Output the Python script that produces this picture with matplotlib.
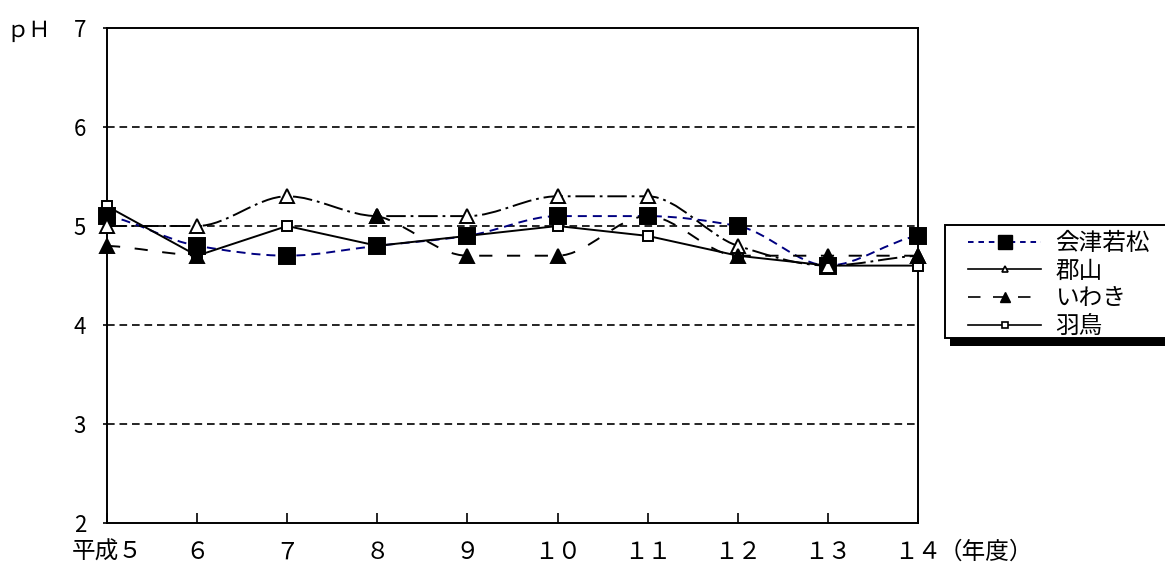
import matplotlib
matplotlib.use("Agg")
import matplotlib.pyplot as plt
import numpy as np
from matplotlib.path import Path
from matplotlib.patches import PathPatch, Rectangle
from matplotlib.lines import Line2D

plt.rcParams['font.family'] = ['Noto Sans CJK JP', 'DejaVu Sans']
plt.rcParams['lines.scale_dashes'] = False

# 年度別 pH (平成5〜14年度)
years = ['平成５', '６', '７', '８', '９', '１０', '１１', '１２', '１３', '１４']
aizu     = [5.1, 4.8, 4.7, 4.8, 4.9, 5.1, 5.1, 5.0, 4.6, 4.9]
koriyama = [5.0, 5.0, 5.3, 5.1, 5.1, 5.3, 5.3, 4.8, 4.6, 4.7]
iwaki    = [4.8, 4.7, np.nan, 5.1, 4.7, 4.7, 5.1, 4.7, 4.7, 4.7]
hatori   = [5.2, 4.7, 5.0, 4.8, 4.9, 5.0, 4.9, 4.7, 4.6, 4.6]
names = ['会津若松', '郡山', 'いわき', '羽鳥']
yticks = [2, 3, 4, 5, 6, 7]


def smooth_path(xs, ys):
    # smoothed line: cubic bezier, flat at local peaks, gaps split the curve
    runs, cur = [], []
    for xv, yv in zip(xs, ys):
        if np.isnan(yv):
            if cur:
                runs.append(cur)
            cur = []
        else:
            cur.append((float(xv), float(yv)))
    if cur:
        runs.append(cur)
    verts, codes = [], []
    for r in runs:
        px = np.array([p[0] for p in r])
        py = np.array([p[1] for p in r])
        n = len(r)
        verts.append((px[0], py[0])); codes.append(Path.MOVETO)
        if n == 1:
            continue
        d = np.diff(py) / np.diff(px)
        m = np.zeros(n)
        m[0], m[-1] = d[0] / 2, d[-1] / 2
        for i in range(1, n - 1):
            if d[i - 1] * d[i] > 0:
                m[i] = 2 * d[i - 1] * d[i] / (d[i - 1] + d[i])
        for i in range(n - 1):
            h = px[i + 1] - px[i]
            verts += [(px[i] + h / 3, py[i] + m[i] * h / 3),
                      (px[i + 1] - h / 3, py[i + 1] - m[i + 1] * h / 3),
                      (px[i + 1], py[i + 1])]
            codes += [Path.CURVE4] * 3
    return Path(verts, codes)


fig = plt.figure(figsize=(11.65, 5.72), dpi=100)
ax = fig.add_axes([107 / 1165, 1 - 523 / 572, (918 - 107) / 1165, (523 - 28) / 572])
x = np.arange(len(years))

# grid
for g in [3, 4, 5, 6]:
    ax.axhline(g, color='black', lw=1.2, dashes=(5.5, 3.5), zorder=1)

# z: line zorder, marker zorder (羽鳥 markers sit underneath the others)
styles = [
    dict(data=aizu, color='#000080', dashes=(6.5, 4.3), smooth=True,
         marker='s', ms=12, mfc='black', mec='black', z=(3, 7.5)),
    dict(data=koriyama, color='black', dashes=(14, 3.5, 2, 3.5), smooth=True,
         marker='^', ms=10, mfc='white', mec='black', z=(4, 8)),
    dict(data=iwaki, color='black', dashes=(9.5, 10.5), smooth=True,
         marker='^', ms=10, mfc='black', mec='black', z=(5, 8.5)),
    dict(data=hatori, color='black', dashes=None, smooth=False,
         marker='s', ms=7, mfc='white', mec='black', z=(6, 7)),
]
for s in styles:
    zl, zm = s['z']
    y = np.array(s['data'], float)
    if s['smooth']:
        patch = PathPatch(smooth_path(x, y), fill=False, edgecolor=s['color'],
                          lw=1.4, zorder=zl, capstyle='butt')
        patch.set_linestyle((0, s['dashes']))
        ax.add_patch(patch)
    else:
        ax.plot(x, y, color=s['color'], lw=1.4, zorder=zl)
    ax.plot(x, y, ls='none', marker=s['marker'], ms=s['ms'], mfc=s['mfc'],
            mec=s['mec'], mew=1.4, zorder=zm, clip_on=False)

ax.set_xlim(0, len(years) - 1)
ax.set_ylim(2, 7)
ax.set_yticks(yticks)
ax.set_yticklabels([str(t) for t in yticks], fontsize=16)
ax.set_xticks(x)
ax.set_xticklabels(years, fontsize=17)
ax.tick_params(axis='x', direction='in', length=7, width=1.2, pad=13)
ax.tick_params(axis='y', direction='out', length=3, width=1.2, pad=12)
for sp in ax.spines.values():
    sp.set_linewidth(1.4)
ax.annotate('（年度）', xy=(len(years) - 1, 0), xycoords=('data', 'axes fraction'),
            xytext=(15, -13), textcoords='offset points', ha='left', va='top',
            fontsize=17, annotation_clip=False)
fig.text(6 / 1165, 1 - 31 / 572, 'ｐＨ', fontsize=16, va='center', ha='left')

# legend box with black offset shadow, running off the right edge
fig.patches.append(Rectangle((950 / 1165, 1 - 346 / 572), 240 / 1165, 113 / 572,
                             transform=fig.transFigure, facecolor='black',
                             edgecolor='none', zorder=2))
fig.patches.append(Rectangle((945 / 1165, 1 - 338 / 572), 240 / 1165, 113 / 572,
                             transform=fig.transFigure, facecolor='white',
                             edgecolor='black', lw=1.4, zorder=3))
handles = [
    Line2D([], [], color='#000080', lw=1.4, dashes=(4, 3.5), marker='s', ms=10,
           mfc='black', mec='black'),
    Line2D([], [], color='black', lw=1.2, marker='^', ms=5, mfc='white', mec='black', mew=1.2),
    Line2D([], [], color='black', lw=1.2, dashes=(9, 9), marker='^', ms=7, mfc='black', mec='black'),
    Line2D([], [], color='black', lw=1.2, marker='s', ms=5, mfc='white', mec='black', mew=1.2),
]
leg = fig.legend(handles, names, loc='upper left',
                 bbox_to_anchor=(968 / 1165, 1 - 232 / 572), fontsize=17,
                 frameon=False, handlelength=3.1, handletextpad=0.6,
                 borderpad=0, labelspacing=0.2, borderaxespad=0)
leg.set_zorder(5)

fig.savefig('out.png', dpi=100)
